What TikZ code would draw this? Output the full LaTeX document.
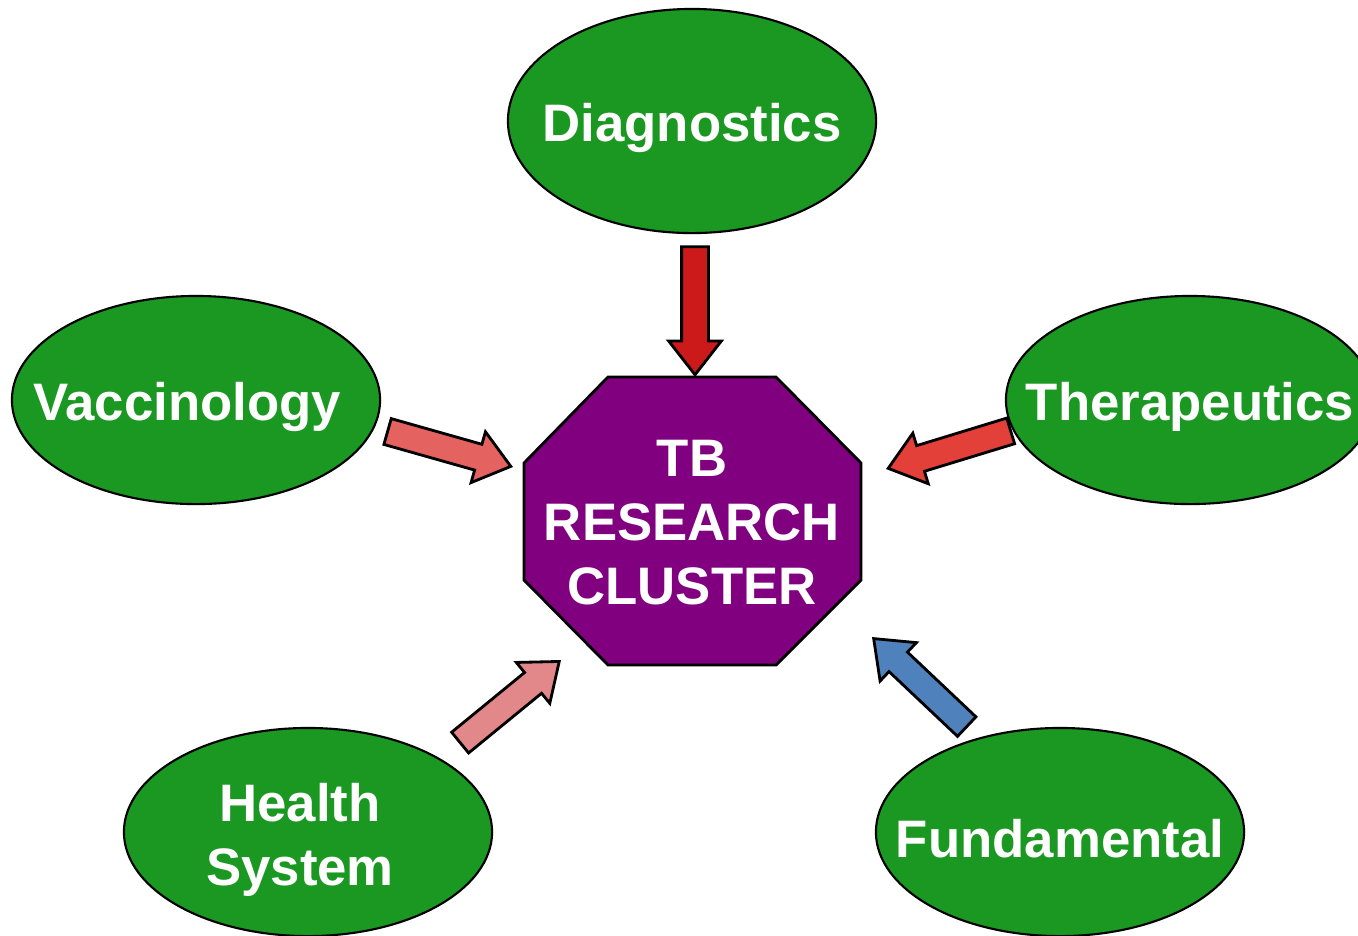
\documentclass[tikz,border=0pt]{standalone}
\usepackage{fontspec}
\setmainfont{Liberation Sans}
\usepackage{xcolor}
\usetikzlibrary{shapes,arrows,positioning,calc,arrows.meta}

\definecolor{topicgreen}{RGB}{26,152,34}
\definecolor{hubpurple}{RGB}{128,0,128}
\definecolor{diagred}{RGB}{204,26,26}
\definecolor{vaccred}{RGB}{228,98,96}
\definecolor{therred}{RGB}{227,64,58}
\definecolor{healthpink}{RGB}{227,136,138}
\definecolor{fundblue}{RGB}{79,129,189}

\begin{document}
\begin{tikzpicture}[x=0.01cm, y=-0.01cm,
    topic/.style={ellipse, draw, line width=0.6pt, fill=topicgreen,
        minimum width=3.68cm, minimum height=2.08cm, inner sep=0pt},
    topictext/.style={text=white, font=\bfseries\fontsize{15}{18.2}\selectfont,
        align=center, inner sep=0pt, yshift=-0.07cm},
    blockarrow/.style={single arrow, draw, line width=0.8pt,
        inner xsep=0pt, inner ysep=0.12cm, minimum height=1.28cm,
        single arrow head extend=0.13cm, single arrow tip angle=76, anchor=tip}]
    \useasboundingbox (0,0) rectangle (1358,935);

    % Hub
    \draw[fill=hubpurple, line width=0.8pt] (608,377) -- (776,377) -- (861,463) -- (861,580)
        -- (776,665) -- (608,665) -- (524,580) -- (524,463) -- cycle;
    \node[topictext, yshift=0.07cm] (hub) at (692,523) {TB\\RESEARCH\\CLUSTER};

    % Topics
    \node[topic, minimum height=2.24cm, label={[topictext, name=diagtxt]center:Diagnostics}] (diag) at (692,121) {};
    \node[topic, label={[topictext, xshift=-0.09cm, name=vacctxt]center:Vaccinology}] (vacc) at (196,400) {};
    \node[topic, label={[topictext, name=thertxt]center:Therapeutics}] (ther) at (1190,400) {};
    \node[topic, label={[topictext, xshift=-0.08cm, yshift=-0.01cm, name=healthtxt]center:Health\\System}] (health) at (308,832) {};
    \node[topic, label={[topictext, name=fundtxt]center:Fundamental}] (fund) at (1060,832) {};

    % Arrows
    \node[blockarrow, fill=diagred, rotate=-90] (arrDiag) at (695,377) {};
    \node[blockarrow, fill=vaccred, rotate=-15.8] (arrVacc) at (513,467) {};
    \node[blockarrow, fill=therred, rotate=197] (arrTher) at (886,469) {};
    \node[blockarrow, fill=healthpink, rotate=39.3] (arrHealth) at (561,660) {};
    \node[blockarrow, fill=fundblue, rotate=136.6] (arrFund) at (872,637) {};
\end{tikzpicture}
\end{document}
